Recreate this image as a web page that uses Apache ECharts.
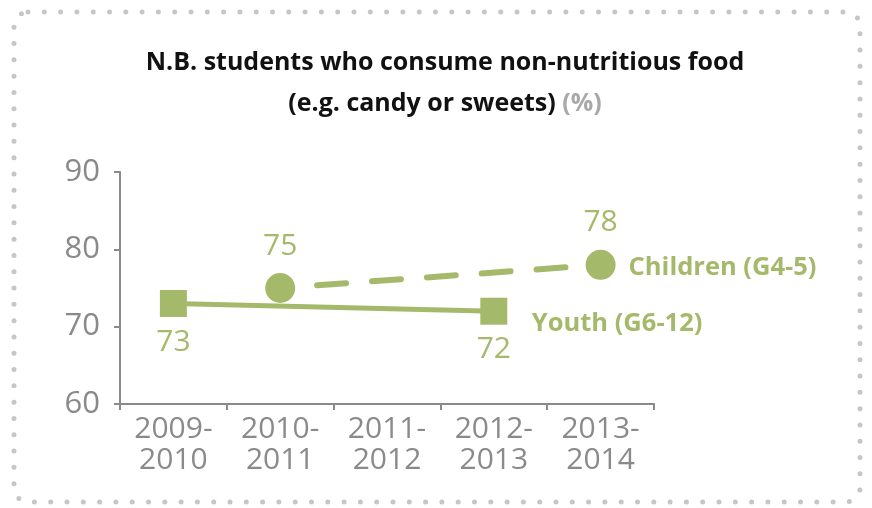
<!DOCTYPE html>
<html><head><meta charset="utf-8">
<script src="https://cdn.jsdelivr.net/npm/echarts@6/dist/echarts.min.js"></script>
<style>html,body{margin:0;padding:0;background:#fff}#c{width:872px;height:508px}</style>
</head><body><div id="c"></div>
<script>
var categories = ['2009-\n2010', '2010-\n2011', '2011-\n2012', '2012-\n2013', '2013-\n2014'];
var youth = [73, null, null, 72, null];
var children = [null, 75, null, null, 78];
var yTicks = [60, 70, 80, 90];
var green = '#a5b96b';
var gray = '#8a8a8a';
var boldFont = 'Open Sans';
var chart = echarts.init(document.getElementById('c'));
chart.setOption({
  animation: false,
  graphic: [{
    type: 'rect', shape: {x: 14, y: 12, width: 846, height: 490, r: 14},
    style: {fill: 'none', stroke: '#c6c6c6', lineWidth: 5, lineDash: [0, 16.3], lineCap: 'round'}
  }],
  title: {
    text: 'N.B. students who consume non-nutritious food\n(e.g. candy or sweets) {g|(%)}',
    left: 440, textAlign: 'center', top: 37,
    textStyle: {fontFamily: boldFont, fontWeight: 'bold', fontSize: 25, color: '#111', lineHeight: 41,
      rich: {g: {fontFamily: boldFont, fontWeight: 'bold', fontSize: 25, color: '#a8a8a8'}}}
  },
  grid: {left: 120, right: 218, top: 172, bottom: 104},
  xAxis: {
    type: 'category', data: categories, boundaryGap: true,
    axisLine: {show: true, lineStyle: {color: gray, width: 2}},
    axisTick: {show: true, length: 6, lineStyle: {color: gray, width: 2}},
    axisLabel: {color: gray, fontFamily: 'Open Sans', fontSize: 30, lineHeight: 31, margin: 10, interval: 0}
  },
  yAxis: {
    type: 'value', min: yTicks[0], max: yTicks[yTicks.length - 1], interval: 10,
    splitLine: {show: false},
    axisLine: {show: true, lineStyle: {color: gray, width: 2}},
    axisTick: {show: true, length: 6, lineStyle: {color: gray, width: 2}},
    axisLabel: {color: gray, fontFamily: 'Open Sans', fontSize: 31, margin: 20}
  },
  series: [{
    name: 'Youth (G6-12)', type: 'line', data: youth, connectNulls: true,
    symbol: 'rect', symbolSize: 27,
    lineStyle: {color: green, width: 5},
    itemStyle: {color: green},
    label: {show: true, position: 'bottom', distance: 10, color: green, fontFamily: 'Open Sans', fontSize: 30},
    endLabel: {show: true, formatter: '{a}', color: green, fontFamily: boldFont, fontWeight: 'bold', fontSize: 25.5, distance: 38, offset: [0, 13]}
  }, {
    name: 'Children (G4-5)', type: 'line', data: children, connectNulls: true,
    symbol: 'circle', symbolSize: 30,
    lineStyle: {color: green, width: 6, type: [29, 26], cap: 'round', dashOffset: 18},
    itemStyle: {color: green},
    label: {show: true, position: 'top', distance: 12, color: green, fontFamily: 'Open Sans', fontSize: 30},
    endLabel: {show: true, formatter: '{a}', color: green, fontFamily: boldFont, fontWeight: 'bold', fontSize: 25.5, distance: 28, offset: [0, 3]}
  }]
});
</script></body></html>
